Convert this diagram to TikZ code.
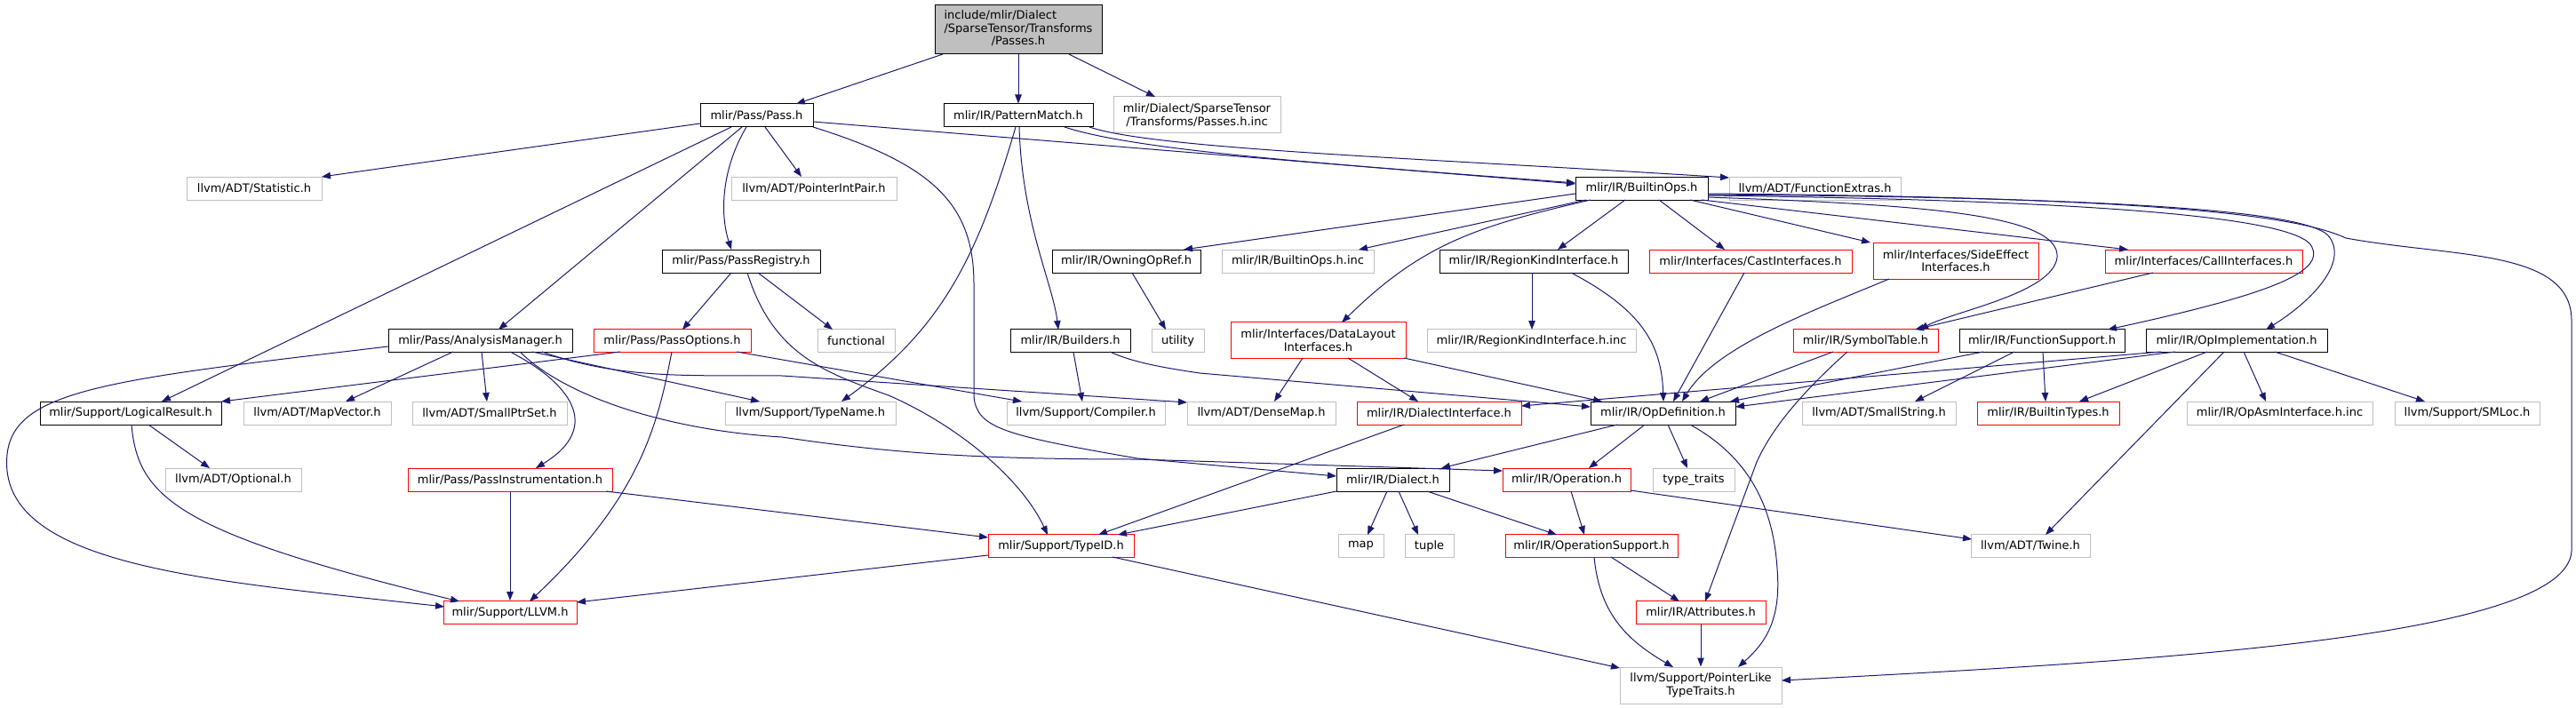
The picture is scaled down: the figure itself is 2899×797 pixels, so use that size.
\documentclass[tikz,border=0pt]{standalone}
\usepackage{fontspec}
\setmainfont{DejaVu Sans}
\usetikzlibrary{arrows.meta}
\definecolor{edgecol}{HTML}{191970}
\definecolor{lgray}{HTML}{BFBFBF}
\tikzset{
 box/.style={draw, line width=1pt, fill=white, inner sep=0pt, minimum height=26pt, font=\fontsize{13}{14.5}\selectfont, text=black},
 blk/.style={box, draw=black},
 redbox/.style={box, draw=red},
 graybox/.style={box, draw=lgray},
 rootbox/.style={box, draw=black, fill=lgray},
 tall/.style={minimum height=41pt, align=center},
 e/.style={draw=edgecol, line width=1pt, -{Triangle[length=10pt,width=7.5pt]}},
}
\begin{document}
\begin{tikzpicture}[x=1pt,y=-1pt]
\useasboundingbox (0,0) rectangle (2899,797);
% nodes
\node[rootbox, minimum width=188pt, minimum height=55pt] (root) at (1146,33.5) {\begin{tabular}{@{}l@{}}include/mlir/Dialect\\/SparseTensor/Transforms\\\multicolumn{1}{@{}c@{}}{/Passes.h}\end{tabular}};
\node[blk, minimum width=127pt] (pass) at (851.5,130) {mlir/Pass/Pass.h};
\node[blk, minimum width=168pt] (pm) at (1146,130) {mlir/IR/PatternMatch.h};
\node[graybox, tall, minimum width=188pt] (inc) at (1347,129.5) {mlir/Dialect/SparseTensor\\/Transforms/Passes.h.inc};
\node[graybox, minimum width=152pt] (stat) at (286,212) {llvm/ADT/Statistic.h};
\node[graybox, minimum width=186pt] (pip) at (916,212) {llvm/ADT/PointerIntPair.h};
\node[blk, minimum width=149pt] (br) at (1847.5,212) {mlir/IR/BuiltinOps.h};
\node[graybox, minimum width=193pt] (fe) at (2042.5,212) {llvm/ADT/FunctionExtras.h};
\node[blk, minimum width=178pt] (preg) at (834,294) {mlir/Pass/PassRegistry.h};
\node[blk, minimum width=167pt] (oor) at (1267.5,294) {mlir/IR/OwningOpRef.h};
\node[graybox, minimum width=171pt] (binc) at (1460.5,294) {mlir/IR/BuiltinOps.h.inc};
\node[blk, minimum width=212pt] (rki) at (1726,294) {mlir/IR/RegionKindInterface.h};
\node[redbox, minimum width=228pt] (cast) at (1970,294) {mlir/Interfaces/CastInterfaces.h};
\node[redbox, tall, minimum width=186pt] (side) at (2201,293.5) {mlir/Interfaces/SideEffect\\Interfaces.h};
\node[redbox, minimum width=222pt] (call) at (2480,294) {mlir/Interfaces/CallInterfaces.h};
\node[blk, minimum width=207pt] (am) at (540.5,383.5) {mlir/Pass/AnalysisManager.h};
\node[redbox, minimum width=177pt] (popt) at (756.5,383.5) {mlir/Pass/PassOptions.h};
\node[graybox, minimum width=87pt] (func) at (963.5,383.5) {functional};
\node[blk, minimum width=135pt] (bld) at (1204.5,383.5) {mlir/IR/Builders.h};
\node[graybox, minimum width=59pt] (util) at (1325.5,383.5) {utility};
\node[redbox, tall, minimum width=197pt] (dl) at (1483.5,383) {mlir/Interfaces/DataLayout\\Interfaces.h};
\node[graybox, minimum width=235pt] (rkinc) at (1723.5,383.5) {mlir/IR/RegionKindInterface.h.inc};
\node[redbox, minimum width=163pt] (sym) at (2099.5,383.5) {mlir/IR/SymbolTable.h};
\node[blk, minimum width=186pt] (fs) at (2298,383.5) {mlir/IR/FunctionSupport.h};
\node[blk, minimum width=204pt] (opi) at (2517,383.5) {mlir/IR/OpImplementation.h};
\node[blk, minimum width=204pt] (lr) at (147,465) {mlir/Support/LogicalResult.h};
\node[graybox, minimum width=166pt] (mv) at (357,465) {llvm/ADT/MapVector.h};
\node[graybox, minimum width=174pt] (sps) at (551,465) {llvm/ADT/SmallPtrSet.h};
\node[graybox, minimum width=192pt] (tn) at (912,465) {llvm/Support/TypeName.h};
\node[graybox, minimum width=178pt] (comp) at (1222,465) {llvm/Support/Compiler.h};
\node[graybox, minimum width=167pt] (dm) at (1419.5,465) {llvm/ADT/DenseMap.h};
\node[redbox, minimum width=185pt] (di) at (1619.5,465) {mlir/IR/DialectInterface.h};
\node[blk, minimum width=163pt] (od) at (1871.5,465) {mlir/IR/OpDefinition.h};
\node[graybox, minimum width=173pt] (ss) at (2114.5,465) {llvm/ADT/SmallString.h};
\node[redbox, minimum width=160pt] (bt) at (2305,465) {mlir/IR/BuiltinTypes.h};
\node[graybox, minimum width=209pt] (oai) at (2565.5,465) {mlir/IR/OpAsmInterface.h.inc};
\node[graybox, minimum width=163pt] (sml) at (2776.5,465) {llvm/Support/SMLoc.h};
\node[graybox, minimum width=153pt] (opt) at (262.5,540) {llvm/ADT/Optional.h};
\node[redbox, minimum width=230pt] (pi) at (574,540) {mlir/Pass/PassInstrumentation.h};
\node[blk, minimum width=127pt] (dia) at (1567.5,540) {mlir/IR/Dialect.h};
\node[redbox, minimum width=144pt] (op) at (1763,540) {mlir/IR/Operation.h};
\node[graybox, minimum width=92pt] (tt) at (1906,540) {type\_traits};
\node[redbox, minimum width=164pt] (tid) at (1194,614.5) {mlir/Support/TypeID.h};
\node[graybox, minimum width=51pt] (map) at (1531.5,614.5) {map};
\node[graybox, minimum width=55pt] (tup) at (1608.5,614.5) {tuple};
\node[redbox, minimum width=194pt] (ops) at (1791,614.5) {mlir/IR/OperationSupport.h};
\node[graybox, minimum width=134pt] (tw) at (2285,614.5) {llvm/ADT/Twine.h};
\node[redbox, minimum width=150pt] (llvm) at (574,689.5) {mlir/Support/LLVM.h};
\node[redbox, minimum width=146pt] (attr) at (1914,689.5) {mlir/IR/Attributes.h};
\node[graybox, tall, minimum width=182pt] (plt) at (1914,771.5) {llvm/Support/PointerLike\\TypeTraits.h};
% edges
\draw[e] ([shift={(-85,27.5)}]root.center) -- ([shift={(44.5,-13)}]pass.center);
\draw[e] (root.south) -- (pm.north);
\draw[e] ([shift={(57,27.5)}]root.center) -- ([shift={(-47,-20.5)}]inc.center);
\draw[e] ([shift={(-63.5,9)}]pass.center) -- ([shift={(76,-13)}]stat.center);
\draw[e] ([shift={(9.5,13)}]pass.center) -- ([shift={(-14,-13)}]pip.center);
\draw[e] ([shift={(63.5,7)}]pass.center) -- ([shift={(-74.5,-5)}]br.center);
\draw[e] ([shift={(-11.5,13)}]pass.center) .. controls (812,190) and (810,240) .. ([shift={(-11,-13)}]preg.center);
\draw[e] ([shift={(-16.5,13)}]pass.center) -- ([shift={(20.5,-12.5)}]am.center);
\draw[e] ([shift={(-28.5,13)}]pass.center) -- ([shift={(35,-13)}]lr.center);
\draw[e] ([shift={(63.5,13)}]pass.center) .. controls (1050,185) and (1096,230) .. (1096,320) -- (1096,447) .. controls (1100,482) and (1130,490) .. (1280,516) -- ([shift={(-63.5,-4)}]dia.center);
\draw[e] ([shift={(52,13)}]pm.center) .. controls (1280,170) and (1500,185) .. ([shift={(-74.5,-6)}]br.center);
\draw[e] ([shift={(80,13)}]pm.center) .. controls (1300,168) and (1600,178) .. ([shift={(-96.5,-12)}]fe.center);
\draw[e] ([shift={(1,13)}]pm.center) .. controls (1150,250) and (1185,320) .. ([shift={(-13.5,-12.5)}]bld.center);
\draw[e] ([shift={(-3,13)}]pm.center) .. controls (1100,290) and (1060,370) .. ([shift={(35,-13)}]tn.center);
\draw[e] ([shift={(-11,13)}]preg.center) -- ([shift={(11.5,-12.5)}]popt.center);
\draw[e] ([shift={(19,13)}]preg.center) -- ([shift={(-26.5,-12.5)}]func.center);
\draw[e] ([shift={(7,13)}]preg.center) .. controls (870,400) and (930,420) .. (1000,445) .. controls (1080,480) and (1150,540) .. ([shift={(-15,-12.5)}]tid.center);
\draw[e] ([shift={(-103.5,6.5)}]am.center) .. controls (100,430) and (0,440) .. (8,530) .. controls (20,640) and (250,655) .. ([shift={(-74,-6.5)}]llvm.center);
\draw[e] ([shift={(-30.5,12.5)}]am.center) -- ([shift={(32,-13)}]mv.center);
\draw[e] ([shift={(1.5,12.5)}]am.center) -- ([shift={(-3,-13)}]sps.center);
\draw[e] ([shift={(33.5,12.5)}]am.center) .. controls (640,430) and (680,480) .. ([shift={(29,-13)}]pi.center);
\draw[e] ([shift={(58.5,12.5)}]am.center) -- ([shift={(-57,-13)}]tn.center);
\draw[e] ([shift={(69.5,12.5)}]am.center) .. controls (700,428) and (780,422) .. (880,423) -- ([shift={(-83.5,-12)}]dm.center);
\draw[e] ([shift={(44.5,12.5)}]am.center) .. controls (640,450) and (760,485) .. (880,492) .. controls (1000,510) and (1100,517) .. (1280,517) -- ([shift={(-72,-10)}]op.center);
\draw[e] ([shift={(-58.5,12.5)}]popt.center) -- ([shift={(102,-13)}]lr.center);
\draw[e] ([shift={(-0.5,12.5)}]popt.center) .. controls (740,480) and (720,560) .. ([shift={(22,-12.5)}]llvm.center);
\draw[e] ([shift={(72.5,12.5)}]popt.center) -- ([shift={(-72,-13)}]comp.center);
\draw[e] ([shift={(20,13)}]lr.center) -- ([shift={(-26.5,-13)}]opt.center);
\draw[e] ([shift={(1,13)}]lr.center) .. controls (155,560) and (200,600) .. ([shift={(-57,-12.5)}]llvm.center);
\draw[e] (pi.south) -- (llvm.north);
\draw[e] ([shift={(108,13)}]pi.center) -- ([shift={(-82,-9.5)}]tid.center);
\draw[e] ([shift={(-82,10.5)}]tid.center) -- ([shift={(75,-11.5)}]llvm.center);
\draw[e] ([shift={(58,12.5)}]tid.center) -- ([shift={(-91,-19.5)}]plt.center);
\draw[e] ([shift={(-39.5,13)}]di.center) -- ([shift={(42,-12.5)}]tid.center);
\draw[e] ([shift={(-63.5,13)}]dia.center) -- ([shift={(64,-12.5)}]tid.center);
\draw[e] ([shift={(-6.5,13)}]dia.center) -- ([shift={(7.5,-12.5)}]map.center);
\draw[e] ([shift={(6.5,13)}]dia.center) -- ([shift={(-12.5,-12.5)}]tup.center);
\draw[e] ([shift={(38.5,13)}]dia.center) -- ([shift={(-39,-12.5)}]ops.center);
\draw[e] ([shift={(5,13)}]op.center) -- ([shift={(-8,-12.5)}]ops.center);
\draw[e] ([shift={(72,12)}]op.center) -- ([shift={(-66,-7.5)}]tw.center);
\draw[e] ([shift={(22,12.5)}]ops.center) -- ([shift={(-24,-12.5)}]attr.center);
\draw[e] ([shift={(3,12.5)}]ops.center) .. controls (1800,690) and (1830,720) .. ([shift={(-31,-20.5)}]plt.center);
\draw[e] (attr.south) -- (plt.north);
\draw[e] ([shift={(-51.5,13)}]od.center) -- ([shift={(54.5,-13)}]dia.center);
\draw[e] ([shift={(-20.5,13)}]od.center) -- ([shift={(25,-13)}]op.center);
\draw[e] ([shift={(5.5,13)}]od.center) -- ([shift={(-7,-13)}]tt.center);
\draw[e] ([shift={(30.5,13)}]od.center) .. controls (1960,510) and (1995,560) .. (2000,640) .. controls (2005,700) and (1985,725) .. ([shift={(42,-20.5)}]plt.center);
\draw[e] ([shift={(-36.5,12.5)}]sym.center) -- ([shift={(41.5,-13)}]od.center);
\draw[e] ([shift={(-66,12.5)}]fs.center) -- ([shift={(75.5,-13)}]od.center);
\draw[e] ([shift={(-69,12.5)}]opi.center) -- ([shift={(81.5,-7)}]od.center);
\draw[e] ([shift={(-85,12.5)}]opi.center) -- ([shift={(92.5,-8)}]di.center);
\draw[e] ([shift={(96.5,20)}]dl.center) -- ([shift={(-68.5,-13)}]od.center);
\draw[e] ([shift={(44.5,12.5)}]bld.center) .. controls (1275,408) and (1310,414) .. (1350,420) -- ([shift={(-81.5,-7)}]od.center);
\draw[e] ([shift={(-17.5,20)}]dl.center) -- ([shift={(14.5,-13)}]dm.center);
\draw[e] ([shift={(33.5,20)}]dl.center) -- ([shift={(-23.5,-13)}]di.center);
\draw[e] ([shift={(42,13)}]rki.center) .. controls (1850,350) and (1870,390) .. ([shift={(0.5,-13)}]od.center);
\draw[e] ([shift={(-2,13)}]rki.center) -- ([shift={(0.5,-12.5)}]rkinc.center);
\draw[e] ([shift={(-7,13)}]cast.center) -- ([shift={(11.5,-13)}]od.center);
\draw[e] ([shift={(-75,20.5)}]side.center) .. controls (2040,350) and (1930,390) .. ([shift={(21.5,-13)}]od.center);
\draw[e] ([shift={(6.5,13)}]oor.center) -- ([shift={(-13.5,-12.5)}]util.center);
\draw[e] ([shift={(3.5,13)}]bld.center) -- ([shift={(-4,-13)}]comp.center);
\draw[e] ([shift={(-57,13)}]call.center) -- ([shift={(55.5,-12.5)}]sym.center);
\draw[e] ([shift={(-20.5,12.5)}]sym.center) .. controls (2030,440) and (1995,480) .. (1977,520) -- ([shift={(5,-12.5)}]attr.center);
\draw[e] ([shift={(-31,12.5)}]fs.center) -- ([shift={(40.5,-13)}]ss.center);
\draw[e] ([shift={(1,12.5)}]fs.center) -- ([shift={(-3,-13)}]bt.center);
\draw[e] ([shift={(-33,12.5)}]opi.center) -- ([shift={(35,-13)}]bt.center);
\draw[e] ([shift={(8,12.5)}]opi.center) -- ([shift={(-15.5,-13)}]oai.center);
\draw[e] ([shift={(43,12.5)}]opi.center) -- ([shift={(-47.5,-13)}]sml.center);
\draw[e] ([shift={(-14,12.5)}]opi.center) -- ([shift={(17,-12.5)}]tw.center);
\draw[e] ([shift={(-74.5,6)}]br.center) -- ([shift={(64.5,-13)}]oor.center);
\draw[e] ([shift={(-62.5,13)}]br.center) -- ([shift={(68.5,-13)}]binc.center);
\draw[e] ([shift={(-57.5,13)}]br.center) .. controls (1660,255) and (1600,275) .. ([shift={(26.5,-20)}]dl.center);
\draw[e] ([shift={(-18.5,13)}]br.center) -- ([shift={(27,-13)}]rki.center);
\draw[e] ([shift={(19.5,13)}]br.center) -- ([shift={(-29,-13)}]cast.center);
\draw[e] ([shift={(54.5,13)}]br.center) -- ([shift={(-96,-20.5)}]side.center);
\draw[e] ([shift={(67.5,13)}]br.center) -- ([shift={(-85,-13)}]call.center);
\draw[e] ([shift={(74.5,10)}]br.center) .. controls (2150,230) and (2320,240) .. (2315,290) .. controls (2310,330) and (2200,350) .. ([shift={(60.5,-12.5)}]sym.center);
\draw[e] ([shift={(74.5,8)}]br.center) .. controls (2300,225) and (2570,240) .. (2600,275) .. controls (2620,305) and (2560,330) .. ([shift={(74,-12.5)}]fs.center);
\draw[e] ([shift={(74.5,7)}]br.center) .. controls (2350,222) and (2590,235) .. (2620,265) .. controls (2645,295) and (2600,340) .. ([shift={(33,-12.5)}]opi.center);
\draw[e] ([shift={(74.5,6)}]br.center) .. controls (2400,222) and (2580,240) .. (2640,268) .. controls (2760,290) and (2893,280) .. (2894,360) -- (2894,620) .. controls (2890,720) and (2400,745) .. ([shift={(91,-5.5)}]plt.center);
\end{tikzpicture}
\end{document}
